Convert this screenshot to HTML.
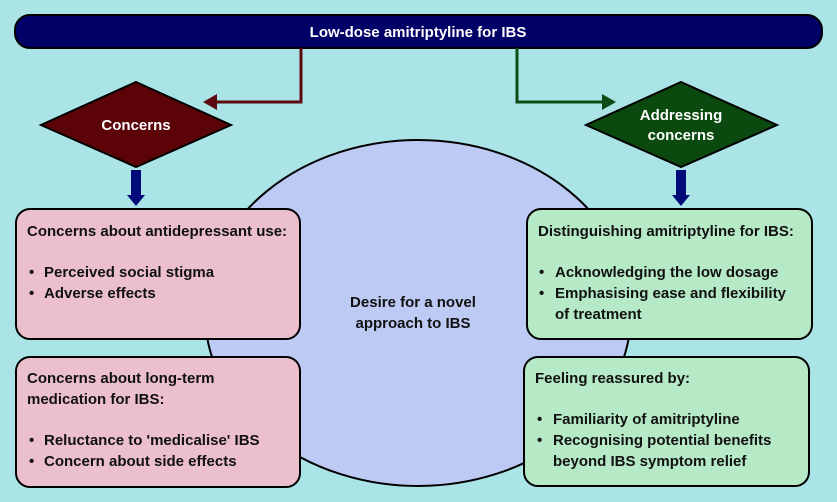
<!DOCTYPE html>
<html><head><style>
body{margin:0;background:#aae4e6;}
svg{display:block;font-family:"Liberation Sans",sans-serif;}
text{font-weight:bold;font-size:15px;}
</style></head><body>
<svg width="837" height="502" viewBox="0 0 837 502">
<rect width="837" height="502" fill="#aae4e6"/>
<ellipse cx="418" cy="313" rx="213" ry="173" fill="#bccaf4" stroke="#000" stroke-width="2"/>
<rect x="15" y="15" width="807" height="33" rx="15" fill="#000066" stroke="#000" stroke-width="2"/>
<text x="418" y="37" text-anchor="middle" fill="#fff">Low-dose amitriptyline for IBS</text>
<polyline points="301,48 301,102 215,102" fill="none" stroke="#5c0a10" stroke-width="3"/>
<polygon points="203,102 217,94 217,110" fill="#5c0a10"/>
<polyline points="517,48 517,102 603,102" fill="none" stroke="#0b4d14" stroke-width="3"/>
<polygon points="616,102 602,94 602,110" fill="#0b4d14"/>
<polygon points="136,82 231,125 136,167 41,125" fill="#5c0308" stroke="#000" stroke-width="2"/>
<text x="136" y="130" text-anchor="middle" fill="#fff">Concerns</text>
<polygon points="681,82 777,125 681,167 586,125" fill="#0b4a0e" stroke="#000" stroke-width="2"/>
<text x="681" y="120" text-anchor="middle" fill="#fff">Addressing</text>
<text x="681" y="140" text-anchor="middle" fill="#fff">concerns</text>
<rect x="131" y="170" width="10" height="26" fill="#000a78"/>
<polygon points="127,195 145,195 136,206" fill="#000a78"/>
<rect x="676" y="170" width="10" height="26" fill="#000a78"/>
<polygon points="672,195 690,195 681,206" fill="#000a78"/>
<g fill="#ebbfcb" stroke="#000" stroke-width="2">
<rect x="16" y="209" width="284" height="130" rx="14"/>
<rect x="16" y="357" width="284" height="130" rx="14"/>
</g>
<g fill="#b6e9c6" stroke="#000" stroke-width="2">
<rect x="527" y="209" width="285" height="130" rx="14"/>
<rect x="524" y="357" width="285" height="129" rx="14"/>
</g>
<g fill="#111">
<text x="27" y="236">Concerns about antidepressant use:</text>
<text x="29" y="277">•</text><text x="44" y="277">Perceived social stigma</text>
<text x="29" y="298">•</text><text x="44" y="298">Adverse effects</text>
<text x="27" y="383">Concerns about long-term</text>
<text x="27" y="404">medication for IBS:</text>
<text x="29" y="445">•</text><text x="44" y="445">Reluctance to 'medicalise' IBS</text>
<text x="29" y="466">•</text><text x="44" y="466">Concern about side effects</text>
<text x="538" y="236">Distinguishing amitriptyline for IBS:</text>
<text x="539" y="277">•</text><text x="555" y="277">Acknowledging the low dosage</text>
<text x="539" y="298">•</text><text x="555" y="298">Emphasising ease and flexibility</text>
<text x="555" y="319">of treatment</text>
<text x="535" y="383">Feeling reassured by:</text>
<text x="537" y="424">•</text><text x="553" y="424">Familiarity of amitriptyline</text>
<text x="537" y="445">•</text><text x="553" y="445">Recognising potential benefits</text>
<text x="553" y="466">beyond IBS symptom relief</text>
<text x="413" y="307" text-anchor="middle">Desire for a novel</text>
<text x="413" y="328" text-anchor="middle">approach to IBS</text>
</g>
</svg>
</body></html>
